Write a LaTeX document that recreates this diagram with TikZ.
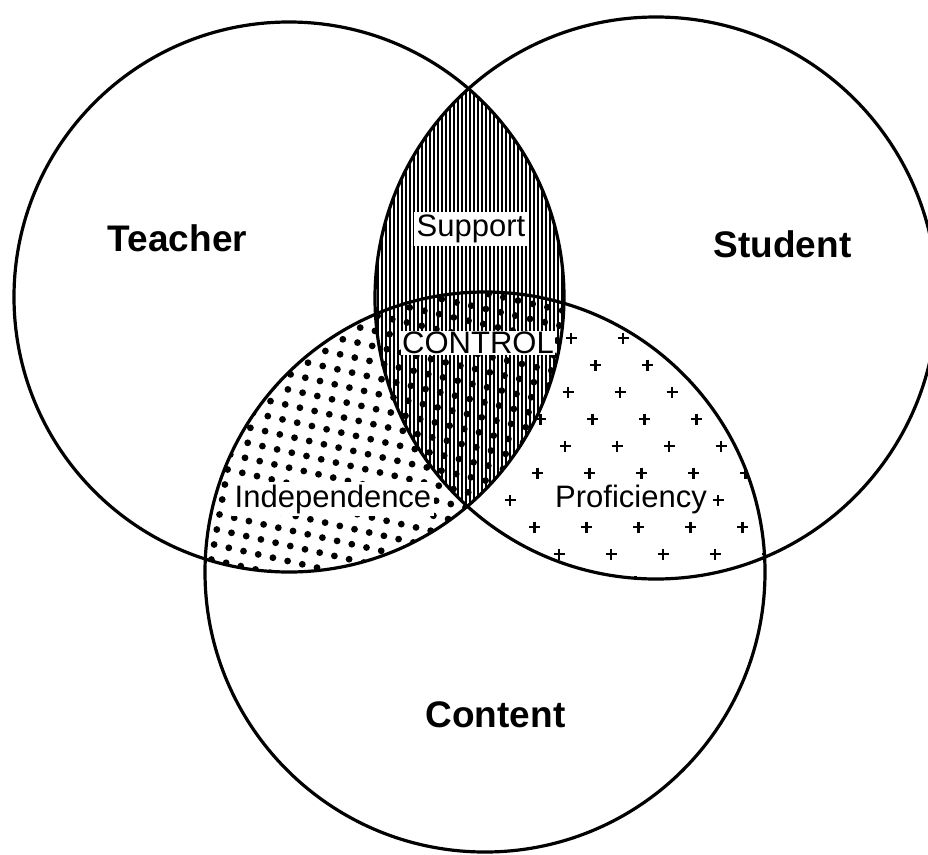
\documentclass[tikz,border=0pt]{standalone}
\usepackage{fontspec}
\setmainfont{Liberation Sans}
\newcommand\pathT{(289,297) circle[radius=275pt]}
\newcommand\pathS{(656,298) circle[radius=281pt]}
\newcommand\pathC{(485,572) circle[radius=280pt]}
\begin{document}
\begin{tikzpicture}[x=1pt,y=-1pt,
  ring/.style={line width=3.2pt},
  hatchline/.style={line width=2pt},
  plusmark/.style={line width=2.3pt},
  biglabel/.style={font=\fontsize{37}{40}\selectfont\bfseries, inner sep=0pt},
  smalllabel/.style={font=\fontsize{31}{34}\selectfont, fill=white, inner sep=2.5pt}]
\useasboundingbox (0,0) rectangle (928,854);
\fill[white] (0,0) rectangle (928,854);
% Proficiency: student & content (pluses)
\begin{scope}
  \clip \pathS; \clip \pathC;
  \foreach \n in {-1,...,9} {
    \foreach \k in {-3,...,8} {
      \pgfmathsetmacro\px{623-27.5*\n+52*\k}
      \pgfmathsetmacro\py{338+27*\n}
      \draw[plusmark] (\px-5.5,\py) -- (\px+5.5,\py) (\px,\py-5.5) -- (\px,\py+5.5);
    }
  }
\end{scope}
% Support: teacher & student (vertical lines)
\begin{scope}
  \clip \pathT; \clip \pathS;
  \fill[white] (0,0) rectangle (928,854);
  \foreach \x in {370,374,...,578} {
    \draw[hatchline] (\x,80) -- (\x,515);
  }
\end{scope}
% Independence: teacher & content (dots)
\begin{scope}
  \clip \pathT; \clip \pathC;
  \foreach \i in {-10,...,20} {
    \foreach \j in {-10,...,16} {
      \fill (322.7+14.7*\i-2.7*\j, 366+3.3*\i+15*\j) circle[radius=3.4pt];
    }
  }
\end{scope}
% region labels
\node[smalllabel] (support) at (471,229) {Support};
\node[smalllabel, inner sep=1.5pt] (control) at (478,343) {CONTROL};
\node[smalllabel] (indep) at (333,499) {Independence};
\node[smalllabel, inner sep=1pt] (profic) at (631,499) {Proficiency};
% circles
\draw[ring] \pathT;
\draw[ring] \pathS;
\draw[ring] \pathC;
% main labels
\node[biglabel] (teacher) at (177.5,238) {Teacher};
\node[biglabel] (student) at (782.5,244) {Student};
\node[biglabel] (content) at (495.5,715) {Content};
\end{tikzpicture}
\end{document}
